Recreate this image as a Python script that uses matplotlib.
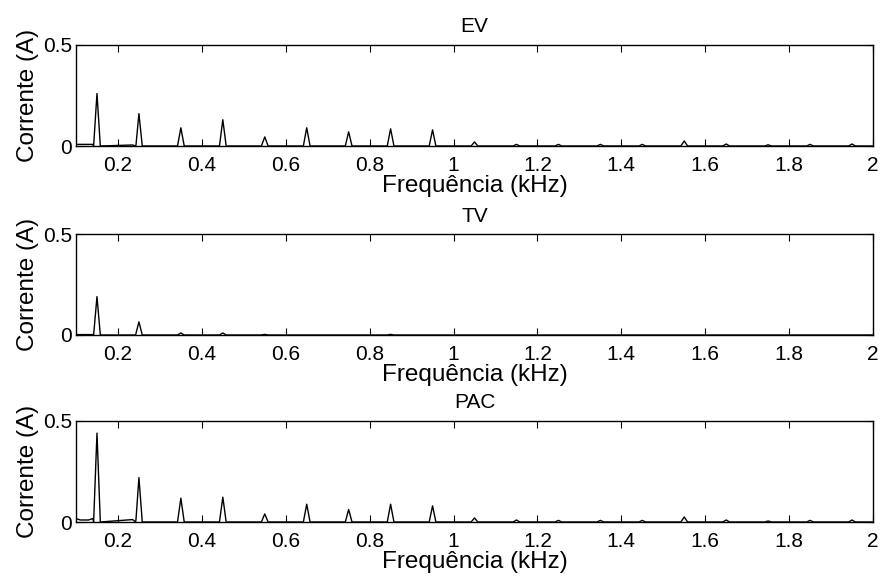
import numpy as np
import matplotlib
matplotlib.use("Agg")
import matplotlib.pyplot as plt

plt.rcParams["font.family"] = ["Liberation Sans", "DejaVu Sans"]

# Harmonic frequencies (kHz) - odd harmonics of 50 Hz
harm_f = [0.15, 0.25, 0.35, 0.45, 0.55, 0.65, 0.75, 0.85, 0.95, 1.05,
          1.15, 1.25, 1.35, 1.45, 1.55, 1.65, 1.75, 1.85, 1.95]

# Peak amplitudes (A)
ev_amp  = [0.26, 0.16, 0.09, 0.13, 0.045, 0.09, 0.07, 0.085, 0.08, 0.02,
           0.008, 0.008, 0.008, 0.008, 0.025, 0.01, 0.006, 0.008, 0.01]
tv_amp  = [0.19, 0.065, 0.01, 0.01, 0.003, 0.0, 0.0, 0.003, 0.0, 0.0,
           0.0, 0.0, 0.0, 0.0, 0.0, 0.0, 0.0, 0.0, 0.0]
pac_amp = [0.44, 0.22, 0.118, 0.123, 0.04, 0.088, 0.062, 0.088, 0.08, 0.02,
           0.01, 0.008, 0.008, 0.008, 0.025, 0.01, 0.005, 0.008, 0.01]

# low-frequency floor before the first peaks (kHz, A)
ev_floor_f  = [0.10, 0.14, 0.235, 0.243]
ev_floor_a  = [0.008, 0.008, 0.005, 0.005]
tv_floor_f  = [0.10, 0.14]
tv_floor_a  = [0.002, 0.002]
pac_floor_f = [0.10, 0.11, 0.13, 0.14, 0.235, 0.243]
pac_floor_a = [0.017, 0.01, 0.01, 0.017, 0.012, 0.012]

titles = ["EV", "TV", "PAC"]
half_w = 0.008


def spectrum(amps, floor_f, floor_a):
    pts = list(zip(floor_f, floor_a))
    for f, a in zip(harm_f, amps):
        pts += [(f - half_w, 0.0), (f, a), (f + half_w, 0.0)]
    pts.append((2.0, 0.0))
    pts.sort(key=lambda p: p[0])
    xs, ys = zip(*pts)
    return np.array(xs), np.array(ys)


series = [spectrum(ev_amp, ev_floor_f, ev_floor_a),
          spectrum(tv_amp, tv_floor_f, tv_floor_a),
          spectrum(pac_amp, pac_floor_f, pac_floor_a)]

fig = plt.figure(figsize=(8.81, 5.77), dpi=100)
left, width, height = 76 / 881, 797 / 881, 101 / 577
bottoms = [1 - 146 / 577, 1 - 335 / 577, 1 - 522 / 577]

for (xs, ys), title, b in zip(series, titles, bottoms):
    ax = fig.add_axes([left, b, width, height])
    ax.plot(xs, ys, color="black", linewidth=1.0)
    ax.set_xlim(0.1, 2)
    ax.set_ylim(0, 0.5)
    ax.set_xticks([0.2, 0.4, 0.6, 0.8, 1, 1.2, 1.4, 1.6, 1.8, 2])
    ax.set_xticklabels(["0.2", "0.4", "0.6", "0.8", "1", "1.2", "1.4",
                        "1.6", "1.8", "2"])
    ax.set_yticks([0, 0.5])
    ax.set_yticklabels(["0", "0.5"])
    ax.tick_params(direction="in", top=True, right=True, length=5,
                   width=0.8, labelsize=15)
    ax.tick_params(axis="x", pad=7)
    ax.tick_params(axis="y", pad=3)
    for s in ax.spines.values():
        s.set_linewidth(1.0)
    ax.set_xlabel("Frequência (kHz)", fontsize=17.5, labelpad=0)
    ax.set_ylabel("Corrente (A)", fontsize=17.5, labelpad=3)
    ax.set_title(title, fontsize=15, pad=9)

fig.savefig("out.png", dpi=100)
